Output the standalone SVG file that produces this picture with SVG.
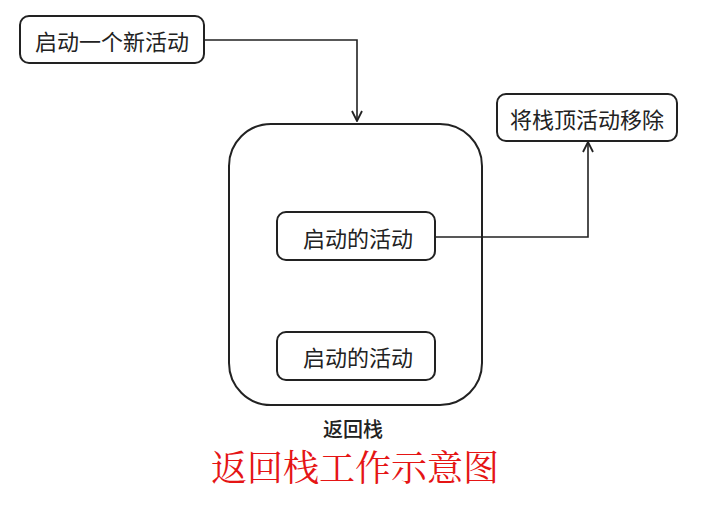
<svg xmlns="http://www.w3.org/2000/svg" width="710" height="512" viewBox="0 0 710 512">
<style>
.box{fill:#fff;stroke:#222;stroke-width:2}
.t{font-family:"Noto Sans CJK SC",sans-serif;font-size:22px;fill:#222;text-anchor:middle;dominant-baseline:central}
.line{fill:none;stroke:#222;stroke-width:1.6}
</style>
<defs>
<marker id="arr" viewBox="0 0 12 12" refX="11" refY="6" markerWidth="12" markerHeight="12" markerUnits="userSpaceOnUse" orient="auto">
<polyline points="1,1 11,6 1,11" fill="none" stroke="#222" stroke-width="1.8"/>
</marker>
</defs>
<rect width="710" height="512" fill="#fff"/>
<g id="stack">
<rect class="box" x="229" y="124" width="253" height="281" rx="42"/>
<text class="t" x="353" y="428" style="font-size:20px;font-weight:500">返回栈</text>
</g>
<g id="connectors">
<path class="line" d="M204,40 H357 V121" marker-end="url(#arr)"/>
<path class="line" d="M435,237 H588 V142" marker-end="url(#arr)"/>
</g>
<g id="start">
<rect class="box" x="20" y="16" width="184" height="47" rx="9"/>
<text class="t" x="112" y="40">启动一个新活动</text>
</g>
<g id="remove">
<rect class="box" x="497" y="94" width="180" height="47" rx="9"/>
<text class="t" x="587" y="118">将栈顶活动移除</text>
</g>
<g id="act1">
<rect class="box" x="277" y="212" width="158" height="48" rx="9"/>
<text class="t" x="358" y="237">启动的活动</text>
</g>
<g id="act2">
<rect class="box" x="277" y="332" width="158" height="48" rx="9"/>
<text class="t" x="358" y="356">启动的活动</text>
</g>
<text x="355" y="481" style="font-family:'Noto Serif CJK SC','Noto Sans CJK SC',serif;font-size:36px;fill:#e51515;text-anchor:middle">返回栈工作示意图</text>
</svg>
